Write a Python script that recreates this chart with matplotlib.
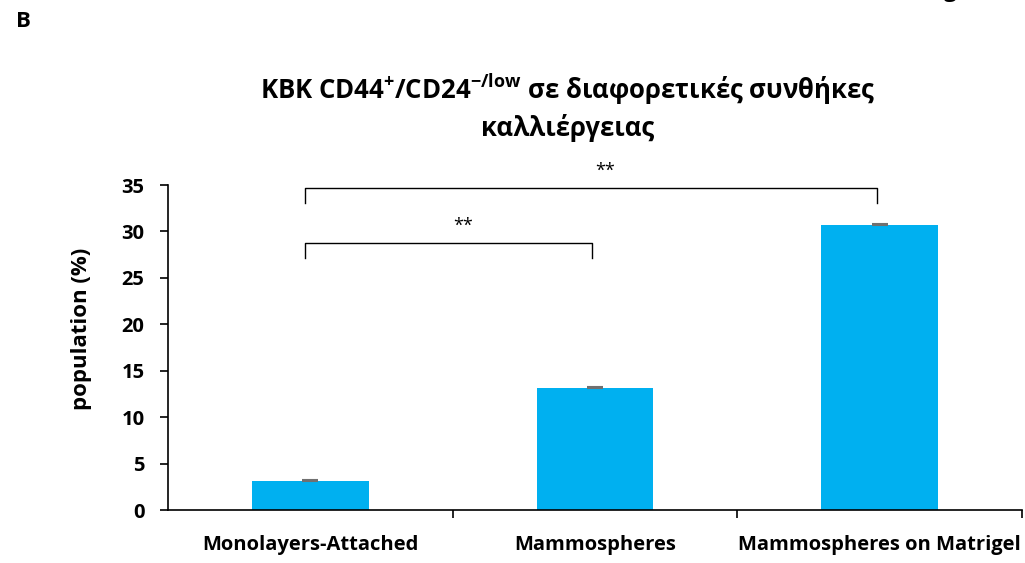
import matplotlib.pyplot as plt
import numpy as np

plt.rcParams['font.family'] = ['Open Sans', 'DejaVu Sans']
plt.rcParams['mathtext.fontset'] = 'custom'
plt.rcParams['mathtext.rm'] = 'Open Sans:bold'
plt.rcParams['mathtext.bf'] = 'Open Sans:bold'

# data
categories = ['Monolayers-Attached', 'Mammospheres', 'Mammospheres on Matrigel']
population = [3.15, 13.15, 30.7]
errors = [0.05, 0.05, 0.05]
yticks = [0, 5, 10, 15, 20, 25, 30, 35]
# significance brackets: (start bar, end bar, top y, bottom y, label)
brackets = [(0, 1, 28.75, 27.1, '**'), (0, 2, 34.7, 33.05, '**')]

fig = plt.figure(figsize=(10.25, 5.63), dpi=100)
ax = fig.add_axes([0.1639, 0.0941, 0.8332, 0.5773])

x = np.arange(len(categories))
ax.bar(x, population, width=0.41, color='#00B0F0', zorder=2)
ax.errorbar(x, population, yerr=errors, fmt='none', ecolor='#707070',
            elinewidth=1, capsize=6, capthick=1.5, zorder=3)

ax.set_xlim(-0.5, 2.5)
ax.set_ylim(0, 35)
ax.set_yticks(yticks)
ax.set_yticklabels([str(t) for t in yticks], fontsize=14.5, fontweight='bold')
ax.set_xticks(x)
ax.set_xticklabels(categories, fontsize=14.5, fontweight='bold')
ax.tick_params(axis='x', which='major', length=0, pad=18)
ax.set_xticks([0.5, 1.5, 2.5], minor=True)
ax.tick_params(axis='x', which='minor', length=6, width=1.2, direction='out')
ax.tick_params(axis='y', length=6, width=1.2, direction='out', pad=11)

for s in ['top', 'right']:
    ax.spines[s].set_visible(False)
for s in ['left', 'bottom']:
    ax.spines[s].set_linewidth(1.2)

ax.set_ylabel('population (%)', fontsize=16, fontweight='bold')
ax.yaxis.set_label_coords(-0.089, 0.557)

for a, b, top, bot, lab in brackets:
    xa = x[a] - 0.02
    xb = x[b] - 0.01
    ax.plot([xa, xa, xb, xb], [bot, top, top, bot], color='black', lw=1,
            clip_on=False, zorder=4)
    ax.text((xa + xb) / 2 + 0.05, top + 0.9, lab, ha='center', va='bottom',
            fontsize=13, clip_on=False)

fig.text(0.554, 0.81,
         'KBK CD44$^{+}$/CD24$^{\\mathrm{-/low}}$ σε διαφορετικές συνθήκες\nκαλλιέργειας',
         ha='center', va='center', fontsize=18.5, fontweight='bold',
         linespacing=1.3)

fig.text(0.016, 0.962, 'B', fontsize=16, fontweight='bold', ha='left', va='center')
fig.text(0.921, 1.006, 'g', fontsize=16, fontweight='bold', ha='left', va='baseline')

fig.savefig('out.png', dpi=100)
